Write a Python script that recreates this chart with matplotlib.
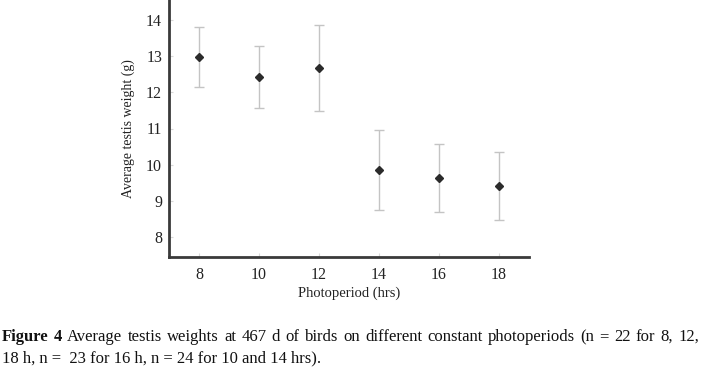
import matplotlib
matplotlib.use("Agg")
import matplotlib.pyplot as plt

photoperiod = [8, 10, 12, 14, 16, 18]
mean_weight = [12.97, 12.42, 12.68, 9.85, 9.64, 9.40]
err_weight = [0.83, 0.86, 1.19, 1.10, 0.94, 0.94]
x_ticks = [8, 10, 12, 14, 16, 18]
y_ticks = [8, 9, 10, 11, 12, 13, 14]
caption_bold = 'Figure 4'
caption_line1 = 'Average testis weights at 467 d of birds on different constant photoperiods (n = 22 for 8, 12,'
caption_line2 = '18 h, n =  23 for 16 h, n = 24 for 10 and 14 hrs).'

plt.rcParams['font.family'] = ['Liberation Serif', 'DejaVu Serif']

W, H = 702, 371
fig = plt.figure(figsize=(W/100, H/100), dpi=100)
ax = fig.add_axes([169/W, 1-257/H, (529-169)/W, 257/H])

ax.errorbar(photoperiod, mean_weight, yerr=err_weight, fmt='D', color='#2b2b2b',
            markersize=4, ecolor='#c4c4c4', elinewidth=1, capsize=3.5, capthick=1)

ax.set_xlim(7, 19)
ax.set_ylim(7.45, 14.55)
ax.set_xticks(x_ticks)
ax.set_yticks(y_ticks)
ax.spines['top'].set_visible(False)
ax.spines['right'].set_visible(False)
for s in ['left', 'bottom']:
    ax.spines[s].set_color('#3a3a3a')
    ax.spines[s].set_linewidth(2)
ax.tick_params(direction='in', length=3, color='#d8d8d8', labelsize=11.5,
               labelcolor='#222222')
ax.tick_params(axis='x', pad=7)
ax.tick_params(axis='y', pad=5)
ax.set_xlabel('Photoperiod (hrs)', fontsize=10.5, color='#222222', labelpad=3)
ax.set_ylabel('Average testis weight (g)', fontsize=10, color='#222222', labelpad=8)

# Caption: first line justified across the width
fs = 12
words = [(w, 'bold') for w in caption_bold.split()] + [(w, 'normal') for w in caption_line1.split()]
texts = []
for w, wt in words:
    texts.append(fig.text(0, 1-341/H, w, fontsize=fs, fontweight=wt, color='#111111'))
fig.canvas.draw()
r = fig.canvas.get_renderer()
widths = [t.get_window_extent(r).width for t in texts]
left, right = 2, 699
gap = (right - left - sum(widths)) / (len(words) - 1)
x = left
for t, wdt in zip(texts, widths):
    t.set_x(x / W)
    x += wdt + gap
fig.text(2/W, 1-362/H, caption_line2, fontsize=fs, color='#111111')

fig.savefig('out.png', dpi=100)
